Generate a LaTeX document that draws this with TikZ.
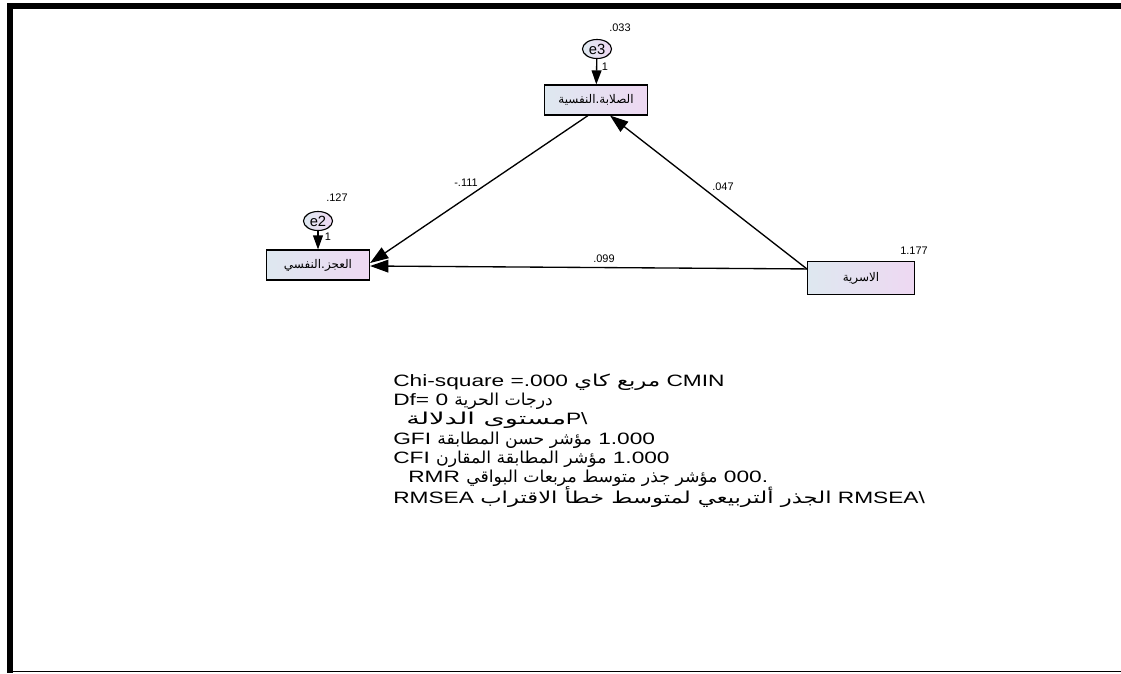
\documentclass[tikz,border=0pt]{standalone}
\usepackage{fontspec}
\setmainfont{Liberation Sans}
\newfontfamily\arabicfont[Script=Arabic]{DejaVu Sans}
\TeXXeTstate=1
\usepackage{tikz}
\usetikzlibrary{arrows.meta,calc,positioning,shapes.geometric}

\definecolor{boxleft}{RGB}{222,232,240}
\definecolor{boxright}{RGB}{238,216,242}
\newcommand{\artxt}[1]{{\arabicfont\beginR #1\endR}}
\newcommand{\artxtn}[1]{\scalebox{0.76}[1]{\arabicfont\beginR #1\endR}}
\newcommand{\artxtw}[1]{\scalebox{1.2}[1]{\arabicfont\beginR #1\endR}}

\tikzset{
  varbox/.style={draw=black, line width=0.8pt, left color=boxleft, right color=boxright,
    minimum width=2.575cm, minimum height=0.75cm, inner sep=0pt,
    font=\fontsize{8.5}{9}\selectfont},
  errnode/.style={ellipse, draw=black, line width=0.8pt, left color=boxleft, right color=boxright,
    minimum width=0.725cm, minimum height=0.475cm, inner sep=0pt,
    font=\fontsize{10.5}{11}\selectfont},
  path/.style={line width=0.95pt, -{Triangle[length=13pt,width=9pt]}},
  errpath/.style={line width=0.95pt, -{Triangle[length=10pt,width=7pt]}},
  estim/.style={font=\fontsize{7.8}{8}\selectfont, inner sep=0pt},
  fitline/.style={anchor=west, inner sep=0pt, font=\fontsize{11.7}{13}\selectfont}
}

\begin{document}
\begin{tikzpicture}[x=0.025cm, y=-0.025cm]
  \useasboundingbox (0,0) rectangle (1121,673);
  \fill[white] (0,0) rectangle (1121,673);

  % frame
  \draw[line width=4.3pt] (7,6) -- (1121,6);
  \draw[line width=4pt] (10,3) -- (10,673);
  \draw[line width=1.4pt] (7,671.5) -- (1121,671.5);

  % observed variables
  \node[varbox] (sal) at (596,100) {\artxt{الصلابة.النفسية}};
  \node[varbox] (ajz) at (318,265) {\artxt{العجز.النفسي}};
  \node[varbox, minimum width=2.675cm, minimum height=0.825cm] (usr) at (861,278) {\artxt{الاسرية}};

  % error terms
  \node[errnode] (e3) at (597,49) {e3};
  \node[errnode] (e2) at (318,221) {e2};

  \draw[errpath] (e3) -- (sal);
  \draw[errpath] (e2) -- (ajz);
  \node[estim] (one3) at (605,67) {1};
  \node[estim] (one2) at (328,237) {1};

  % paths
  \coordinate (usrout) at ($(usr.north west)+(0,8)$);
  \draw[path] ($(sal.south)+(-8,0)$) -- ($(ajz.east)+(0,-2)$);
  \draw[path] (usrout) -- ($(sal.south)+(14,0)$);
  \draw[path] (usrout) -- ($(ajz.east)+(0,1)$);

  % estimates
  \node[estim] (v3) at (620,28) {.033};
  \node[estim] (v2) at (337,198) {.127};
  \node[estim] (vu) at (914,251) {1.177};
  \node[estim] (b1) at (466,183) {-.111};
  \node[estim] (b2) at (723,187) {.047};
  \node[estim] (b3) at (604,259) {.099};

  % fit indices
  \node[fitline] (fit1) at (393,382) {\scalebox{1.38}[1]{Chi-square =.000 \artxt{مربع كاي} CMIN}};
  \node[fitline] (fit2) at (393,401) {\scalebox{1.38}[1]{Df= 0 \artxtn{درجات الحرية}}};
  \node[fitline] (fit3) at (406,420) {\scalebox{1.38}[1]{\artxtw{مستوى الدلالة}P\textbackslash}};
  \node[fitline] (fit4) at (393,440) {\scalebox{1.38}[1]{GFI \artxtn{مؤشر حسن المطابقة} 1.000}};
  \node[fitline] (fit5) at (393,459) {\scalebox{1.38}[1]{CFI \artxtn{مؤشر المطابقة المقارن} 1.000}};
  \node[fitline] (fit6) at (408,478) {\scalebox{1.38}[1]{RMR \artxtn{مؤشر جذر متوسط مربعات البواقي} 000.}};
  \node[fitline] (fit7) at (393,497) {\scalebox{1.38}[1]{RMSEA \artxt{الجذر ألتربيعي لمتوسط خطأ الاقتراب} RMSEA\textbackslash}};
\end{tikzpicture}
\end{document}
